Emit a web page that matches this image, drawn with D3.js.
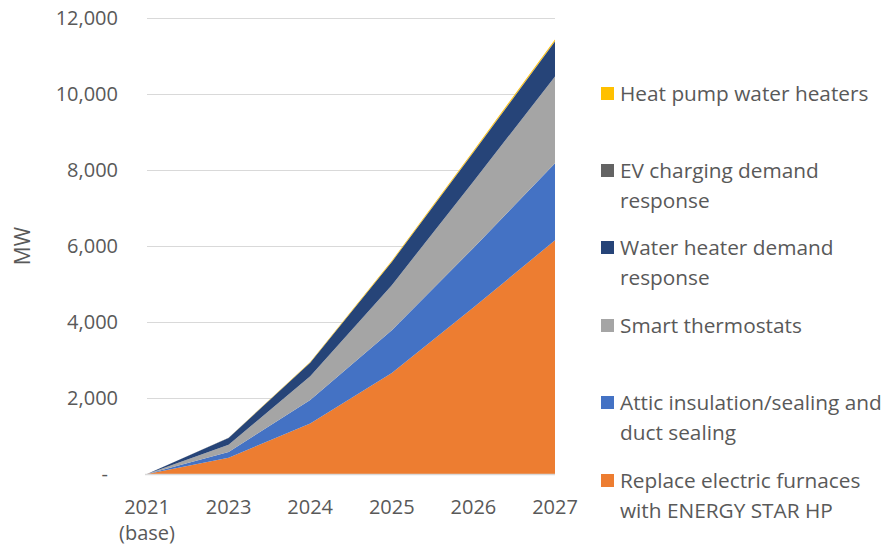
<!DOCTYPE html>
<html>
<head>
<meta charset="utf-8">
<script src="https://cdn.jsdelivr.net/npm/d3@7"></script>
<style>
  body { margin: 0; background: #fff; }
  text { font-family: "Open Sans", sans-serif; fill: #595959; }
</style>
</head>
<body>
<svg id="chart" width="888" height="550"></svg>
<script>
// ---------- data (MW)

const YEARS = ["2021 (base)", "2023", "2024", "2025", "2026", "2027"];

const SERIES_NAMES = [
  "Replace electric furnaces with ENERGY STAR HP",
  "Attic insulation/sealing and duct sealing",
  "Smart thermostats",
  "Water heater demand response",
  "EV charging demand response",
  "Heat pump water heaters",
];

const FURNACES = [0, 430, 1330, 2660, 4380, 6150];
const ATTIC = [0, 150, 620, 1120, 1570, 2030];
const THERMOSTATS = [0, 190, 620, 1190, 1750, 2280];
const WATER_HEATER_DR = [0, 180, 360, 610, 760, 920];
const EV_DR = [0, 2, 5, 8, 12, 15];
const HP_WATER_HEATERS = [0, 5, 15, 25, 35, 40];

const Y_TICKS = [0, 2000, 4000, 6000, 8000, 10000, 12000];

// legend rows, top to bottom, each with its wrapped lines
const LEGEND_ROWS = [
  { name: "Heat pump water heaters", lines: ["Heat pump water heaters"] },
  { name: "EV charging demand response", lines: ["EV charging demand", "response"] },
  { name: "Water heater demand response", lines: ["Water heater demand", "response"] },
  { name: "Smart thermostats", lines: ["Smart thermostats"] },
  { name: "Attic insulation/sealing and duct sealing", lines: ["Attic insulation/sealing and", "duct sealing"] },
  { name: "Replace electric furnaces with ENERGY STAR HP", lines: ["Replace electric furnaces", "with ENERGY STAR HP"] },
];
const LEGEND_Y = [94, 171, 248, 326, 403, 481];

// ---------- styles

const COLORS = {
  "Replace electric furnaces with ENERGY STAR HP": "#ED7D31",
  "Attic insulation/sealing and duct sealing": "#4472C4",
  "Smart thermostats": "#A5A5A5",
  "Water heater demand response": "#264478",
  "EV charging demand response": "#636363",
  "Heat pump water heaters": "#FFC000",
};

const GRID_COLOR = "#D9D9D9";
const FONT_SIZE = 20;
const LEGEND_FONT_SIZE = 20.8;

// ---------- build table for d3.stack

const columns = [FURNACES, ATTIC, THERMOSTATS, WATER_HEATER_DR, EV_DR, HP_WATER_HEATERS];
const table = YEARS.map(function (year, i) {
  const row = { year: year };
  SERIES_NAMES.forEach(function (name, j) {
    row[name] = columns[j][i];
  });
  return row;
});

const svg = d3.select("#chart");

const x = d3.scalePoint().domain(YEARS).range([147, 555]);
const y = d3.scaleLinear().domain([0, 12000]).range([474, 18]);

const stacked = d3.stack().keys(SERIES_NAMES)(table);

// gridlines
svg.append("g")
  .selectAll("line")
  .data(Y_TICKS)
  .join("line")
  .attr("x1", x(YEARS[0]))
  .attr("x2", x(YEARS[YEARS.length - 1]))
  .attr("y1", (d) => y(d) + 0.5)
  .attr("y2", (d) => y(d) + 0.5)
  .attr("stroke", GRID_COLOR)
  .attr("stroke-width", 1);

// areas
const area = d3.area()
  .x((d) => x(d.data.year))
  .y0((d) => y(d[0]))
  .y1((d) => y(d[1]));

svg.append("g")
  .selectAll("path")
  .data(stacked)
  .join("path")
  .attr("fill", (d) => COLORS[d.key])
  .attr("d", area);

// x axis baseline
svg.append("line")
  .attr("x1", x(YEARS[0]) - 2)
  .attr("x2", x(YEARS[YEARS.length - 1]))
  .attr("y1", y(0) + 0.5)
  .attr("y2", y(0) + 0.5)
  .attr("stroke", GRID_COLOR)
  .attr("stroke-width", 1.5);

// y tick labels
svg.append("g")
  .selectAll("text")
  .data(Y_TICKS)
  .join("text")
  .attr("x", (d) => (d === 0 ? 108 : 118))
  .attr("y", (d) => y(d))
  .attr("dy", "0.35em")
  .attr("text-anchor", "end")
  .style("font-size", FONT_SIZE + "px")
  .text((d) => (d === 0 ? "-" : d3.format(",")(d)));

// x tick labels (may wrap onto two lines)
const xLabels = svg.append("g")
  .selectAll("text")
  .data(YEARS)
  .join("text")
  .attr("text-anchor", "middle")
  .style("font-size", FONT_SIZE + "px");

xLabels.each(function (d) {
  const parts = d.split(" ");
  const t = d3.select(this);
  parts.forEach(function (p, i) {
    t.append("tspan")
      .attr("x", x(d))
      .attr("y", 514 + i * 26)
      .text(p);
  });
});

// y axis title
svg.append("text")
  .attr("transform", "translate(30,246) rotate(-90)")
  .attr("text-anchor", "middle")
  .style("font-size", "21px")
  .text("MW");

// legend
const legend = svg.append("g")
  .selectAll("g")
  .data(LEGEND_ROWS)
  .join("g")
  .attr("transform", (d, i) => `translate(601,${LEGEND_Y[i]})`);

legend.append("rect")
  .attr("x", 0)
  .attr("y", -7)
  .attr("width", 13)
  .attr("height", 13)
  .attr("fill", (d) => COLORS[d.name]);

legend.append("text")
  .style("font-size", LEGEND_FONT_SIZE + "px")
  .each(function (d) {
    const t = d3.select(this);
    d.lines.forEach(function (line, i) {
      t.append("tspan")
        .attr("x", 19)
        .attr("y", 7 + i * 30)
        .text(line);
    });
  });
</script>
</body>
</html>
